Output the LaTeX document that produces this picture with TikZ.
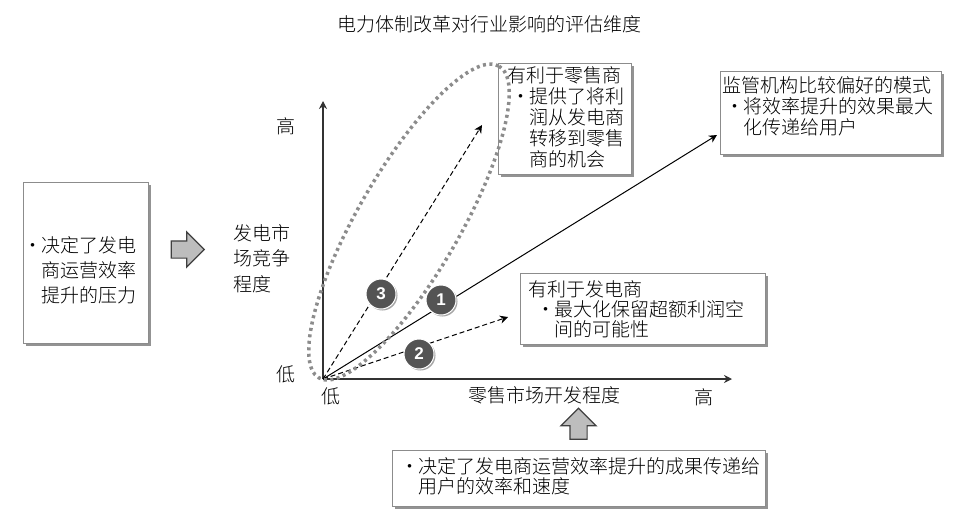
\documentclass[tikz,border=0pt]{standalone}
\usepackage{fontspec}
\setmainfont{Noto Sans CJK SC}[UprightFont=* Light]
\newfontfamily\digitfont{Liberation Sans}
\usetikzlibrary{arrows.meta,positioning,shadows,shapes.arrows}
\definecolor{boxline}{gray}{0.55}
\definecolor{arrowfill}{gray}{0.74}
\definecolor{badgefill}{gray}{0.33}
\newcommand{\bul}{\makebox[0pt][r]{·\hspace{-1pt}}}
\begin{document}
\begin{tikzpicture}[
    x=1pt, y=-1pt,
    label/.style={inner sep=0pt, font=\fontsize{19}{25.5}\selectfont, text=black},
    note/.style={inner sep=0pt, align=left, font=\fontsize{19}{21}\selectfont, text=black},
    panel/.style={rectangle, draw=boxline, fill=white, line width=1pt,
        drop shadow={shadow xshift=3pt, shadow yshift=-3pt, fill=gray!85, opacity=1}},
    blockarrow/.style={single arrow, draw=black!75, fill=arrowfill, line width=1.2pt, inner xsep=0pt, inner ysep=8pt,
        single arrow head extend=9pt, minimum height=33pt},
    axisline/.style={-{Stealth[length=8pt, width=8pt]}, line width=1.1pt, draw=black!80},
    trend/.style={-{Stealth[length=8pt, width=8pt]}, line width=1pt},
    trenddash/.style={trend, dash pattern=on 5pt off 3pt},
    badge/.style={circle, fill=badgefill, draw=white, line width=1pt, minimum size=30pt, inner sep=0pt,
        text=white, font=\digitfont\bfseries\fontsize{17}{17}\selectfont,
        drop shadow={shadow xshift=1.5pt, shadow yshift=-1.5pt, fill=gray!70, opacity=1}},
    circled/.style={draw=gray!90, line width=3.5pt, dash pattern=on 3pt off 3.5pt},
]
    \useasboundingbox (0,0) rectangle (966,523);

    \node[label] (title) at (489,24) {电力体制改革对行业影响的评估维度};

    % left box and its arrow
    \node[panel, minimum width=125pt, minimum height=161pt] (drivebox) at (85.5,262.5) {};
    \node[note, font=\fontsize{19}{25}\selectfont, below right=54.5pt and 19pt of drivebox.north west] (drivetxt)
        {\bul 决定了发电\\商运营效率\\提升的压力};
    \node[blockarrow] (rightarrow) at (183.5,249.5) {};
    \node[label, align=left, anchor=north west] (yname) at (233,224) {发电市\\场竞争\\程度};

    % axes
    \coordinate (origin) at (323,379);
    \coordinate (yend) at (323,101);
    \coordinate (xend) at (732,379);
    \draw[axisline] (origin) -- (yend);
    \draw[axisline] (origin) -- (xend);
    \node[label] (yhigh) at (286,126) {高};
    \node[label] (ylow) at (286,374) {低};
    \node[label] (xlow) at (331,396) {低};
    \node[label] (xname) at (544,395) {零售市场开发程度};
    \node[label] (xhigh) at (704,397) {高};

    % trends
    \coordinate (end1) at (717,135);
    \coordinate (end2) at (508,317);
    \coordinate (end3) at (482,125);
    \draw[trend] (origin) -- (end1);
    \draw[trenddash] (origin) -- (end2);
    \draw[trenddash] (origin) -- (end3);
    \node[badge] (badge1) at (441,300) {1};
    \node[badge] (badge2) at (419,354) {2};
    \node[badge] (badge3) at (381,294) {3};

    % right boxes
    \node[panel, minimum width=133pt, minimum height=111pt] (retailbox) at (564.5,118.5) {};
    \node[note, below right=4pt and 10pt of retailbox.north west] (retailtxt)
        {有利于零售商\\\hspace*{22pt}\bul 提供了将利\\\hspace*{22pt}润从发电商\\\hspace*{22pt}转移到零售\\\hspace*{22pt}商的机会};
    \node[panel, minimum width=221pt, minimum height=83pt] (regbox) at (830.5,112.5) {};
    \node[note, below right=6pt and 3pt of regbox.north west] (regtxt)
        {监管机构比较偏好的模式\\\hspace*{21pt}\bul 将效率提升的效果最大\\\hspace*{21pt}化传递给用户};
    \node[panel, minimum width=245pt, minimum height=71pt] (genbox) at (642.5,308.5) {};
    \node[note, font=\fontsize{19}{20}\selectfont, below right=8pt and 9pt of genbox.north west] (gentxt)
        {有利于发电商\\\hspace*{26pt}\bul 最大化保留超额利润空\\\hspace*{26pt}间的可能性};

    % lower box and its arrow
    \node[blockarrow, rotate=90, minimum height=31pt] (uparrow) at (578.5,428) {};
    \node[panel, minimum width=373pt, minimum height=56pt] (valuebox) at (578.5,478) {};
    \node[note, font=\fontsize{19}{20}\selectfont, below right=8pt and 27pt of valuebox.north west] (valuetxt)
        {\bul 决定了发电商运营效率提升的成果传递给\\用户的效率和速度};

    % ring round the retail side
    \coordinate (ringcentre) at (409,222);
    \draw[circled] (ringcentre) ellipse [x radius=180, y radius=51, rotate=60];
\end{tikzpicture}
\end{document}
